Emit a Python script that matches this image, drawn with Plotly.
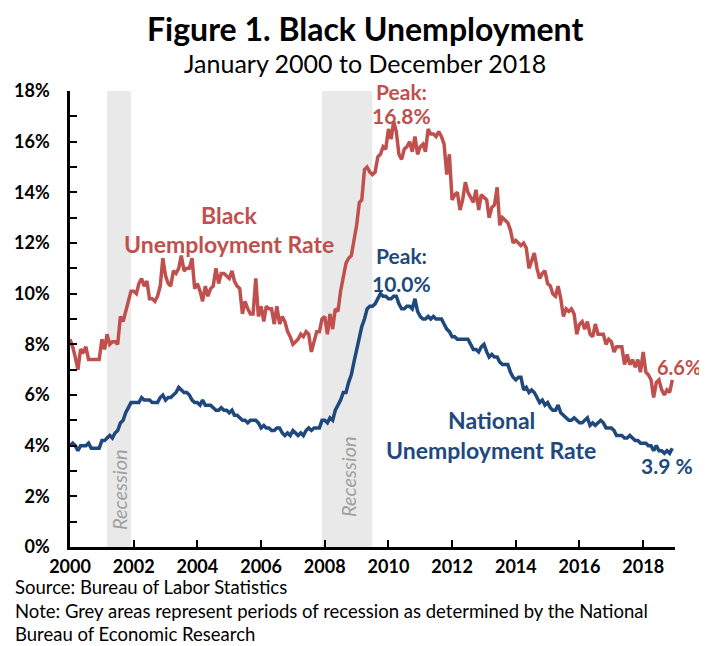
import plotly.graph_objects as go
import pandas as pd

# ---------------- data ----------------
months = pd.date_range("2000-01-01", periods=228, freq="MS")

black_rate = [
    # 2000
    8.2, 7.9, 7.5, 7.0, 7.8, 7.7, 7.9, 7.4, 7.4, 7.4, 7.4, 7.4,
    # 2001
    8.2, 7.8, 8.4, 8.0, 8.1, 8.1, 8.0, 9.1, 8.9, 9.3, 9.7, 10.1,
    # 2002
    10.1, 10.0, 10.4, 10.6, 10.3, 10.5, 9.8, 9.8, 9.7, 9.9, 10.3, 11.4,
    # 2003
    10.7, 10.4, 10.3, 10.9, 10.8, 11.0, 11.5, 10.9, 11.0, 11.0, 11.4, 10.2,
    # 2004
    10.4, 10.1, 9.7, 10.3, 9.9, 10.2, 10.3, 11.0, 10.4, 10.8, 10.8, 10.7,
    # 2005
    10.6, 10.9, 10.5, 10.3, 10.2, 9.2, 9.7, 9.4, 9.2, 9.2, 10.6, 9.1,
    # 2006
    9.5, 8.9, 9.5, 9.4, 9.4, 8.8, 9.5, 8.8, 9.1, 8.9, 8.5, 8.3,
    # 2007
    8.0, 8.1, 8.2, 8.4, 8.3, 8.5, 8.4, 7.7, 8.1, 8.5, 8.5, 9.0,
    # 2008
    9.1, 8.4, 9.2, 8.6, 9.4, 9.3, 10.1, 10.7, 11.2, 11.4, 11.5, 12.1,
    # 2009
    12.7, 13.6, 13.7, 14.9, 15.0, 14.8, 14.7, 14.8, 15.4, 15.5, 15.8, 15.7,
    # 2010
    16.5, 16.1, 16.8, 16.4, 15.5, 15.3, 15.7, 15.8, 16.0, 15.6, 16.2, 15.5,
    # 2011
    15.8, 15.9, 15.6, 16.5, 16.3, 16.3, 16.2, 16.4, 16.2, 15.9, 14.7, 15.5,
    # 2012
    13.7, 13.9, 14.0, 13.3, 13.7, 14.4, 14.0, 13.8, 13.6, 14.1, 13.3, 13.9,
    # 2013
    13.8, 13.7, 13.0, 13.4, 13.5, 14.2, 12.7, 13.0, 12.9, 12.8, 12.5, 12.0,
    # 2014
    12.1, 12.0, 11.9, 12.0, 11.8, 11.0, 11.3, 11.6, 11.0, 10.6, 10.8, 10.9,
    # 2015
    10.4, 10.3, 10.0, 9.9, 10.3, 9.8, 9.1, 9.4, 9.3, 9.4, 9.2, 8.4,
    # 2016
    8.8, 8.9, 8.6, 8.9, 8.4, 8.3, 8.8, 8.4, 8.4, 8.4, 8.0, 8.2,
    # 2017
    8.1, 7.7, 7.9, 7.9, 7.9, 7.2, 7.6, 7.2, 7.4, 7.1, 7.4, 6.9,
    # 2018
    7.7, 6.9, 6.8, 6.6, 5.9, 6.5, 6.6, 6.2, 6.0, 6.2, 6.1, 6.6,
]

national_rate = [
    # 2000
    4.0, 4.1, 4.0, 3.8, 4.0, 4.0, 4.0, 4.1, 3.9, 3.9, 3.9, 3.9,
    # 2001
    4.2, 4.2, 4.3, 4.4, 4.3, 4.5, 4.6, 4.9, 5.0, 5.3, 5.5, 5.7,
    # 2002
    5.7, 5.7, 5.7, 5.9, 5.8, 5.8, 5.8, 5.7, 5.7, 5.7, 5.9, 6.0,
    # 2003
    5.8, 5.9, 5.9, 6.0, 6.1, 6.3, 6.2, 6.1, 6.1, 6.0, 5.8, 5.7,
    # 2004
    5.7, 5.6, 5.8, 5.6, 5.6, 5.6, 5.5, 5.4, 5.4, 5.5, 5.4, 5.4,
    # 2005
    5.3, 5.4, 5.2, 5.2, 5.1, 5.0, 5.0, 4.9, 5.0, 5.0, 5.0, 4.9,
    # 2006
    4.7, 4.8, 4.7, 4.7, 4.6, 4.6, 4.7, 4.7, 4.5, 4.4, 4.5, 4.4,
    # 2007
    4.6, 4.5, 4.4, 4.5, 4.4, 4.6, 4.7, 4.6, 4.7, 4.7, 4.7, 5.0,
    # 2008
    5.0, 4.9, 5.1, 5.0, 5.4, 5.6, 5.8, 6.1, 6.1, 6.5, 6.8, 7.3,
    # 2009
    7.8, 8.3, 8.7, 9.0, 9.4, 9.5, 9.5, 9.6, 9.8, 10.0, 9.9, 9.9,
    # 2010
    9.8, 9.8, 9.9, 9.9, 9.6, 9.4, 9.4, 9.5, 9.5, 9.4, 9.8, 9.3,
    # 2011
    9.1, 9.0, 9.0, 9.1, 9.0, 9.1, 9.0, 9.0, 9.0, 8.8, 8.6, 8.5,
    # 2012
    8.3, 8.3, 8.2, 8.2, 8.2, 8.2, 8.2, 8.0, 7.8, 7.8, 7.7, 7.9,
    # 2013
    8.0, 7.7, 7.5, 7.6, 7.5, 7.5, 7.3, 7.2, 7.2, 7.2, 6.9, 6.7,
    # 2014
    6.6, 6.7, 6.7, 6.2, 6.3, 6.1, 6.2, 6.1, 5.9, 5.7, 5.8, 5.6,
    # 2015
    5.7, 5.5, 5.4, 5.4, 5.6, 5.3, 5.2, 5.1, 5.0, 5.0, 5.1, 5.0,
    # 2016
    4.9, 4.9, 5.0, 5.1, 4.8, 4.9, 4.8, 4.9, 5.0, 4.9, 4.7, 4.7,
    # 2017
    4.7, 4.6, 4.4, 4.4, 4.4, 4.3, 4.3, 4.4, 4.3, 4.2, 4.2, 4.1,
    # 2018
    4.1, 4.1, 4.0, 4.0, 3.8, 4.0, 3.8, 3.8, 3.7, 3.8, 3.7, 3.9,
]

recessions = [("2001-03-01", "2001-11-30"), ("2007-12-01", "2009-06-30")]

year_ticks = ["2000", "2002", "2004", "2006", "2008", "2010", "2012", "2014", "2016", "2018"]
pct_ticks = list(range(0, 19))
pct_labels = [f"{v}%" if v % 2 == 0 else "" for v in pct_ticks]

# ---------------- styling ----------------
RED = "#C0504D"
BLUE = "#1F497D"
GREY_TXT = "#A0A0A0"
FONT = "Lato"

# page body has an 8px margin: plot area spans x 70..675, y 91..547 of the window
PL, PT, PW, PH = 70, 91, 605, 456


def px(x):
    return (x - PL) / PW


def py(y):
    return (PT + PH - y) / PH


fig = go.Figure()

for x0, x1 in recessions:
    fig.add_shape(type="rect", xref="x", yref="y", x0=x0, x1=x1, y0=0, y1=18,
                  fillcolor="#E9E9E9", line_width=0, layer="below")

fig.add_trace(go.Scatter(x=months, y=black_rate, mode="lines",
                         line=dict(color=RED, width=3.5), hoverinfo="skip",
                         showlegend=False))
fig.add_trace(go.Scatter(x=months, y=national_rate, mode="lines",
                         line=dict(color=BLUE, width=3.5), hoverinfo="skip",
                         showlegend=False))


def ann(text, x, y, color, size=23, bold=True, **kw):
    t = f"<b>{text}</b>" if bold else text
    fig.add_annotation(text=t, x=px(x), y=py(y), xref="paper", yref="paper", showarrow=False,
                       font=dict(family=FONT, size=size, color=color),
                       xanchor="center", yanchor="middle", **kw)


ann("Black", 229, 215, RED)
ann("Unemployment Rate", 229, 244, RED)
ann("Peak:", 401, 91, RED, size=21)
ann("16.8%", 401, 115, RED, size=21)
ann("Peak:", 401, 256, BLUE, size=21)
ann("10.0%", 401, 283, BLUE, size=21)
ann("National", 491, 420, BLUE)
ann("Unemployment Rate", 491, 450, BLUE)
ann("6.6%", 679, 367, RED, size=20)
ann("3.9 %", 667, 465, BLUE, size=21)
ann("<i>Recession</i>", 119, 490, GREY_TXT, size=20, bold=False, textangle=-90)
ann("<i>Recession</i>", 348, 477, GREY_TXT, size=20, bold=False, textangle=-90)

# titles
ann("Figure 1. Black Unemployment", 365, 28, "black", size=32)
ann("January 2000 to December 2018", 365, 63, "black", size=25, bold=False)

# footer notes
footer = ["Source: Bureau of Labor Statistics",
          "Note: Grey areas represent periods of recession as determined by the National",
          "Bureau of Economic Research"]
for line, ypix in zip(footer, [587, 611, 634]):
    fig.add_annotation(text=line, xref="paper", yref="paper",
                       x=px(13), y=py(ypix), showarrow=False,
                       xanchor="left", yanchor="middle",
                       font=dict(family=FONT, size=18.5, color="black"))

fig.update_layout(
    width=699, height=638,
    margin=dict(l=62, r=32, t=83, b=99, autoexpand=False),
    paper_bgcolor="white", plot_bgcolor="white",
    showlegend=False,
    xaxis=dict(
        type="date", range=["2000-01-01", "2019-01-01"],
        tickvals=[f"{y}-01-01" for y in year_ticks], ticktext=year_ticks,
        ticks="inside", ticklen=7, tickwidth=2, tickcolor="black",
        showline=True, linewidth=2.5, linecolor="black",
        showgrid=False, zeroline=False, automargin=False,
        tickfont=dict(family=FONT, size=18, color="black", weight="bold"),
        ticklabelstandoff=2,
    ),
    yaxis=dict(
        range=[0, 18], tickvals=pct_ticks, ticktext=pct_labels,
        ticks="inside", ticklen=7, tickwidth=2, tickcolor="black",
        showline=True, linewidth=2.5, linecolor="black",
        showgrid=False, zeroline=False, automargin=False,
        tickfont=dict(family=FONT, size=18, color="black", weight="bold"),
        ticklabelstandoff=14,
    ),
)

fig.write_html("out.html")
